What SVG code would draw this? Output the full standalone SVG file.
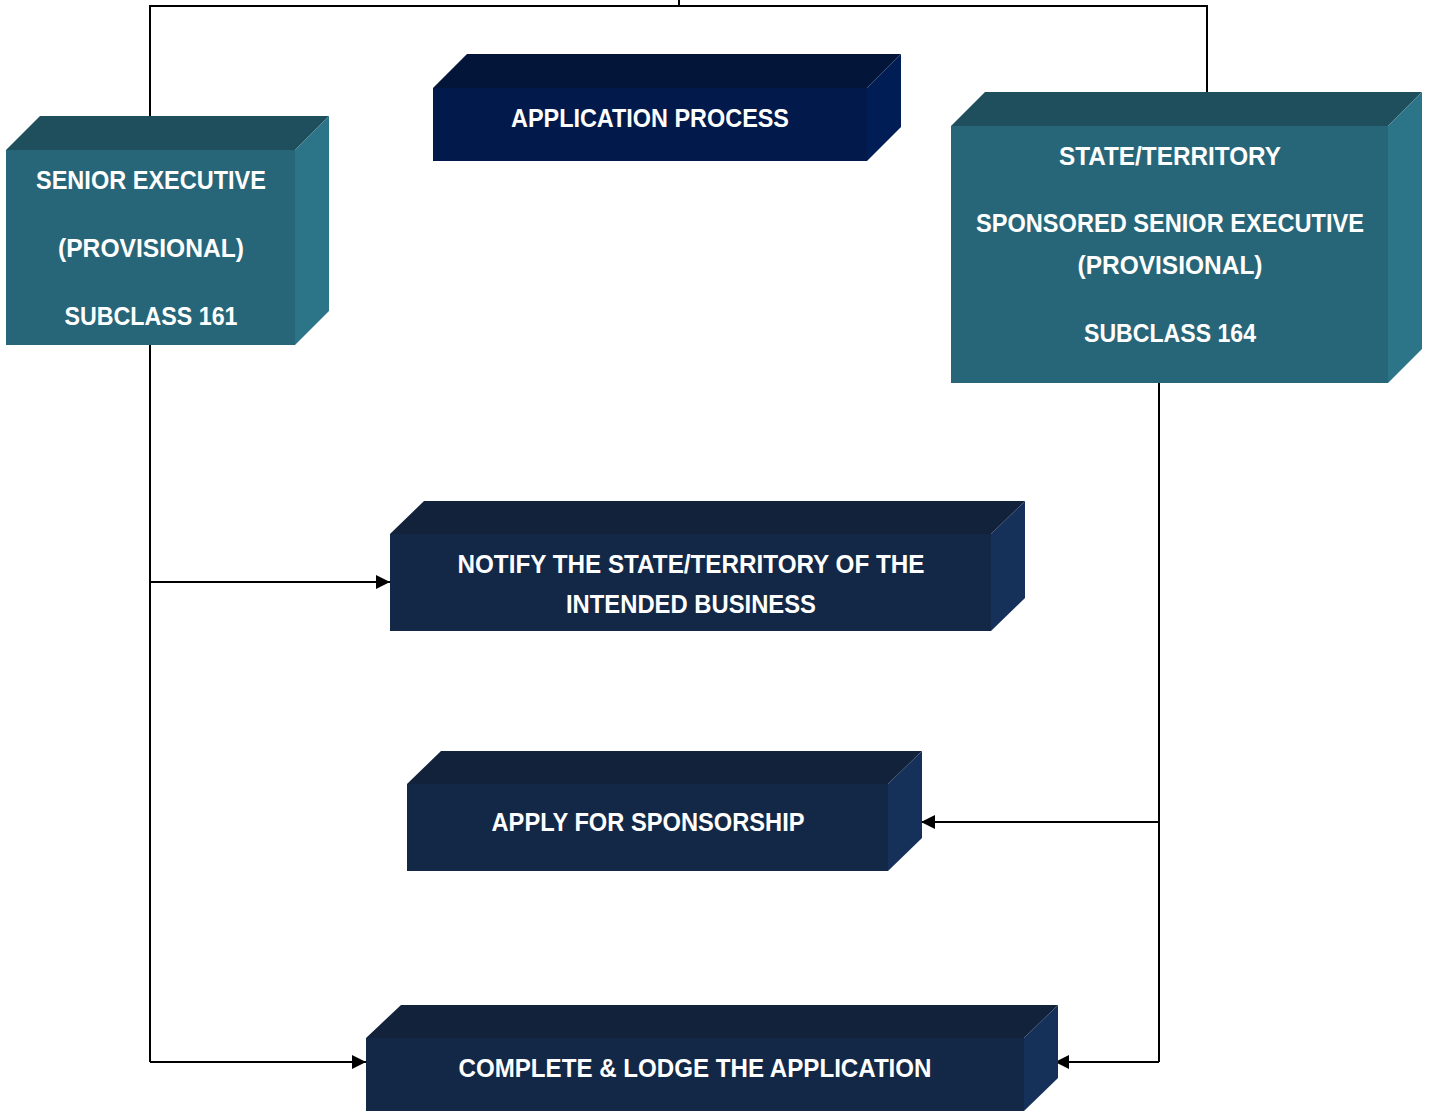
<svg xmlns="http://www.w3.org/2000/svg" width="1430" height="1112" viewBox="0 0 1430 1112">
<defs>
<marker id="arr" viewBox="0 0 14 14" refX="14" refY="7" markerWidth="14" markerHeight="14" markerUnits="userSpaceOnUse" orient="auto">
<path d="M0,0 L14,7 L0,14 Z" fill="#000"/>
</marker>
<style>
.t{font-family:"Liberation Sans",Arial,sans-serif;font-weight:bold;font-size:25px;fill:#ffffff;text-anchor:middle}
.tealF{fill:#276678}.tealT{fill:#1f4f5c}.tealR{fill:#2c7589}
.apF{fill:#021a4b}.apT{fill:#03163a}.apR{fill:#001d55}
.nvF{fill:#132847}.nvT{fill:#12223b}.nvR{fill:#163159}
.c{fill:none;stroke:#000;stroke-width:2}
</style>
</defs>
<rect width="1430" height="1112" fill="#fff"/>
<g id="connectors">
<polyline class="c" points="150,116 150,6 1207,6 1207,92"/>
<line class="c" x1="679" y1="0" x2="679" y2="6"/>
<line class="c" x1="150" y1="345" x2="150" y2="1062"/>
<line class="c" x1="150" y1="582" x2="390" y2="582" marker-end="url(#arr)"/>
<line class="c" x1="150" y1="1062" x2="366" y2="1062" marker-end="url(#arr)"/>
<line class="c" x1="1159" y1="382" x2="1159" y2="1062"/>
<line class="c" x1="1159" y1="822" x2="921" y2="822" marker-end="url(#arr)"/>
<line class="c" x1="1159" y1="1062" x2="1055" y2="1062" marker-end="url(#arr)"/>
</g>
<g id="senior-executive-161">
<polygon class="tealT" points="6,150 40,116 329,116 295,150"/>
<polygon class="tealR" points="295,150 329,116 329,311 295,345"/>
<rect class="tealF" x="6" y="150" width="289" height="195"/>
<text class="t" x="151" y="189" textLength="230" lengthAdjust="spacingAndGlyphs">SENIOR EXECUTIVE</text>
<text class="t" x="151" y="257" textLength="186" lengthAdjust="spacingAndGlyphs">(PROVISIONAL)</text>
<text class="t" x="151" y="325" textLength="173" lengthAdjust="spacingAndGlyphs">SUBCLASS 161</text>
</g>
<g id="application-process">
<polygon class="apT" points="433,88 467,54 901,54 867,88"/>
<polygon class="apR" points="867,88 901,54 901,127 867,161"/>
<rect class="apF" x="433" y="88" width="434" height="73"/>
<text class="t" x="650" y="127" textLength="278" lengthAdjust="spacingAndGlyphs">APPLICATION PROCESS</text>
</g>
<g id="state-territory-164">
<polygon class="tealT" points="951,126 985,92 1422,92 1388,126"/>
<polygon class="tealR" points="1388,126 1422,92 1422,349 1388,383"/>
<rect class="tealF" x="951" y="126" width="437" height="257"/>
<text class="t" x="1170" y="165" textLength="222" lengthAdjust="spacingAndGlyphs">STATE/TERRITORY</text>
<text class="t" x="1170" y="232" textLength="388" lengthAdjust="spacingAndGlyphs">SPONSORED SENIOR EXECUTIVE</text>
<text class="t" x="1170" y="274" textLength="185" lengthAdjust="spacingAndGlyphs">(PROVISIONAL)</text>
<text class="t" x="1170" y="342" textLength="172" lengthAdjust="spacingAndGlyphs">SUBCLASS 164</text>
</g>
<g id="notify">
<polygon class="nvT" points="390,534 424,501 1025,501 991,534"/>
<polygon class="nvR" points="991,534 1025,501 1025,598 991,631"/>
<rect class="nvF" x="390" y="534" width="601" height="97"/>
<text class="t" x="691" y="573" textLength="467" lengthAdjust="spacingAndGlyphs">NOTIFY THE STATE/TERRITORY OF THE</text>
<text class="t" x="691" y="613" textLength="250" lengthAdjust="spacingAndGlyphs">INTENDED BUSINESS</text>
</g>
<g id="apply-sponsorship">
<polygon class="nvT" points="407,784 441,751 922,751 888,784"/>
<polygon class="nvR" points="888,784 922,751 922,838 888,871"/>
<rect class="nvF" x="407" y="784" width="481" height="87"/>
<text class="t" x="648" y="831" textLength="313" lengthAdjust="spacingAndGlyphs">APPLY FOR SPONSORSHIP</text>
</g>
<g id="complete-lodge">
<polygon class="nvT" points="366,1038 401,1005 1058,1005 1024,1038"/>
<polygon class="nvR" points="1024,1038 1058,1005 1058,1078 1024,1111"/>
<rect class="nvF" x="366" y="1038" width="658" height="73"/>
<text class="t" x="695" y="1077" textLength="473" lengthAdjust="spacingAndGlyphs">COMPLETE &amp; LODGE THE APPLICATION</text>
</g>
</svg>
